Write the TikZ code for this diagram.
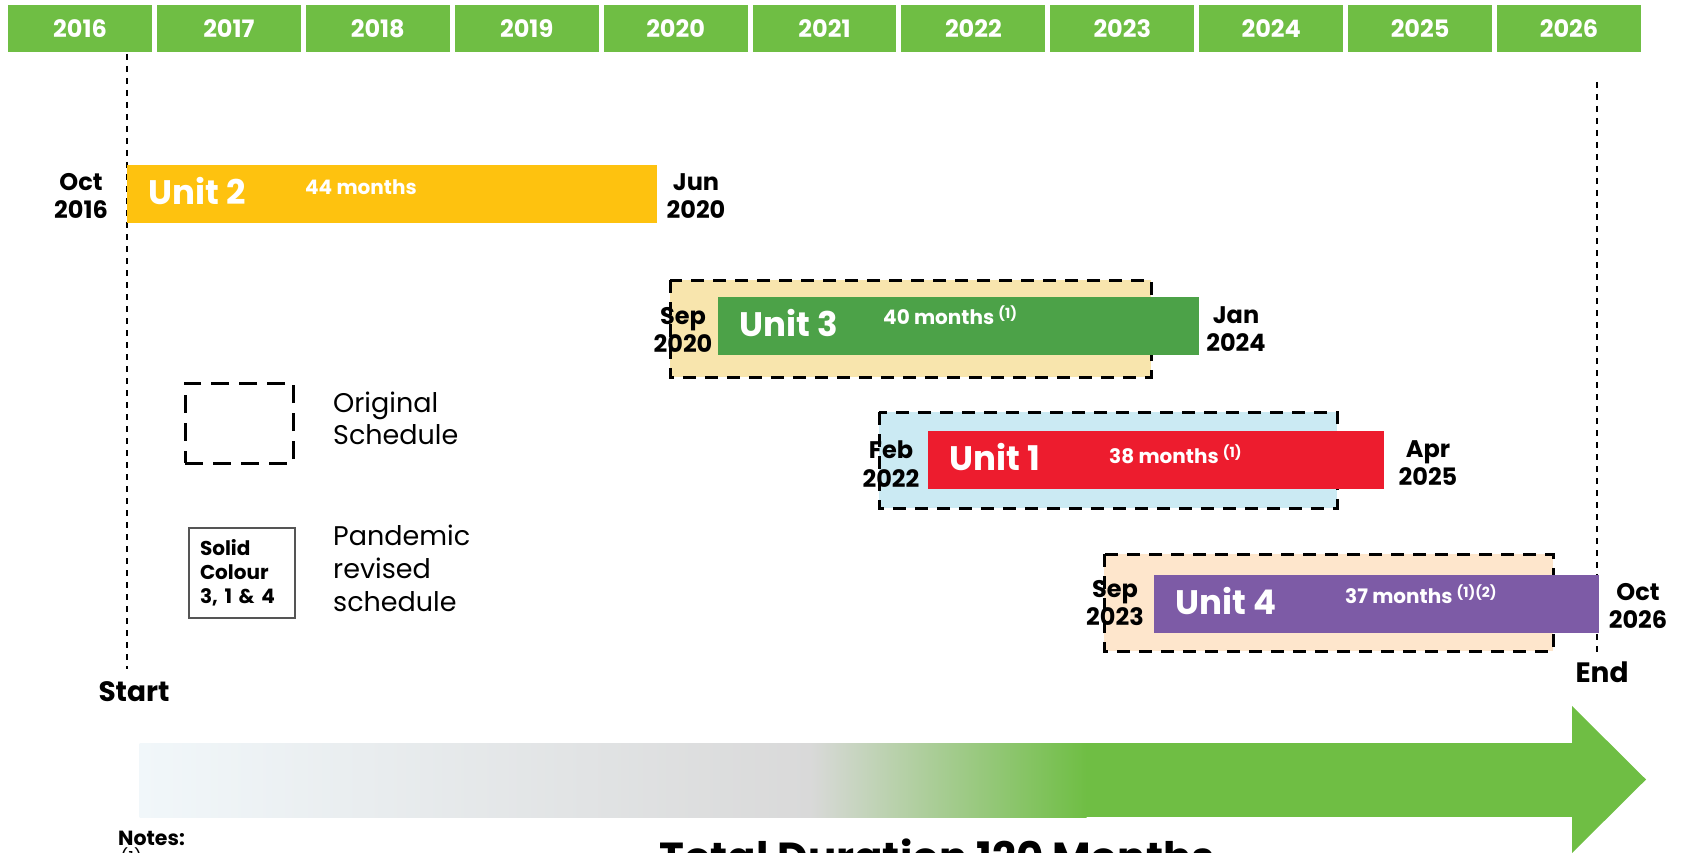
\documentclass[tikz,border=0pt]{standalone}
\usepackage{fontspec}
\setmainfont{Poppins}
\usepackage{xcolor}
\usetikzlibrary{positioning,calc,shapes,arrows.meta}

\definecolor{hdrgreen}{HTML}{6FBE44}
\definecolor{unitgold}{HTML}{FEC20F}
\definecolor{unitgreen}{HTML}{4CA248}
\definecolor{unitred}{HTML}{ED1C2E}
\definecolor{unitpurple}{HTML}{7D5BA6}
\definecolor{origtan}{HTML}{F8E5AD}
\definecolor{origblue}{HTML}{CBEAF3}
\definecolor{origpeach}{HTML}{FEE6CC}
\definecolor{fadewhite}{HTML}{F1F7FA}
\definecolor{fadegray}{HTML}{D9D9D9}
\definecolor{keygray}{HTML}{555555}

\newcommand{\unitnote}[1]{\raisebox{6pt}{\fontsize{14}{14}\selectfont(#1)}}

\tikzset{
    yearbox/.style={fill=hdrgreen, text=white, inner sep=0pt,
        minimum width=143.9pt, minimum height=47pt,
        font=\bfseries\fontsize{24}{24}\selectfont},
    bar/.style={anchor=north west, inner sep=0pt, minimum height=58pt},
    orig/.style={line width=3pt, dash pattern=on 13pt off 9pt},
    guide/.style={line width=1.5pt, dash pattern=on 6pt off 6pt},
    unitname/.style={text=white, inner sep=0pt, font=\bfseries\fontsize{34}{34}\selectfont},
    months/.style={text=white, inner sep=0pt, anchor=base west,
        font=\bfseries\fontsize{20}{20}\selectfont},
    datelbl/.style={align=center, inner sep=0pt,
        font=\bfseries\fontsize{24}{28.5}\selectfont},
    milestone/.style={inner sep=0pt, font=\bfseries\fontsize{28}{28}\selectfont},
    keytext/.style={align=left, anchor=west, inner sep=0pt,
        font=\fontsize{27}{32}\selectfont}
}

\begin{document}
\begin{tikzpicture}[x=1pt, y=-1pt, >=latex]
    \useasboundingbox (0,0) rectangle (1683,853);
    \clip (0,0) rectangle (1683,853);

    % year header
    \foreach \yr [count=\i from 0] in {2016,...,2026} {
        \node[yearbox] (y\yr) at ({80+148.9*\i}, 29) {\yr};
    }

    % start / end markers
    \coordinate (starttop) at (127,54);
    \coordinate (endtop) at (1597,82);
    \node[milestone] (start) at (134,692) {Start};
    \node[milestone] (end) at (1602,672) {End};
    \draw[guide] (starttop) -- ([yshift=13pt]start.north -| starttop);
    \draw[guide] (endtop) -- ([yshift=8pt]end.north -| endtop);

    % original schedules
    \draw[orig, fill=origtan] (670,280) rectangle (1151,377);
    \draw[orig, fill=origblue] (879,412) rectangle (1337,508);
    \draw[orig, fill=origpeach] (1104,554) rectangle (1553,651);

    % revised schedules
    \node[bar, fill=unitgold, minimum width=530pt] (u2) at (127,165) {};
    \node[bar, fill=unitgreen, minimum width=481pt] (u3) at (718,297) {};
    \node[bar, fill=unitred, minimum width=456pt] (u1) at (928,431) {};
    \node[bar, fill=unitpurple, minimum width=445pt] (u4) at (1154,575) {};

    \node[unitname, anchor=west, right=21pt of u2.west, yshift=3pt] (u2name) {Unit 2};
    \node[unitname, anchor=west, right=21pt of u3.west, yshift=3pt] (u3name) {Unit 3};
    \node[unitname, anchor=west, right=21pt of u1.west, yshift=3pt] (u1name) {Unit 1};
    \node[unitname, anchor=west, right=21pt of u4.west, yshift=3pt] (u4name) {Unit 4};

    \node[months] (u2len) at (305,194) {44 months};
    \node[months] (u3len) at (883,324) {40 months \unitnote{1}};
    \node[months] (u1len) at (1109,463) {38 months \unitnote{1}};
    \node[months] (u4len) at (1345,603) {37 months \unitnote{1}\unitnote{2}};

    % dates
    \node[datelbl] (u2from) at (81,196) {Oct\\2016};
    \node[datelbl] (u2to) at (696,196) {Jun\\2020};
    \node[datelbl] (u3from) at (683,330) {Sep\\2020};
    \node[datelbl] (u3to) at (1236,329) {Jan\\2024};
    \node[datelbl] (u1from) at (891,464) {Feb\\2022};
    \node[datelbl] (u1to) at (1428,463) {Apr\\2025};
    \node[datelbl] (u4from) at (1115,603) {Sep\\2023};
    \node[datelbl] (u4to) at (1638,606) {Oct\\2026};

    % legend
    \node[orig, draw, dash pattern=on 18pt off 10pt, minimum width=108pt,
        minimum height=80pt] (origkey) at (239,423) {};
    \node[draw=keygray, line width=1.2pt, minimum width=106pt, minimum height=90pt,
        text width=84pt, inner xsep=11pt, align=left,
        font=\bfseries\fontsize{20}{24}\selectfont] (solidkey) at (242,573)
        {Solid\\Colour\\3, 1 \& 4};
    \node[keytext] (origtxt) at (333,418.5) {Original\\Schedule};
    \node[keytext, font=\fontsize{27}{33}\selectfont] (solidtxt) at (333,568)
        {Pandemic\\revised\\schedule};

    % total duration arrow
    \shade[left color=fadewhite, right color=fadegray] (139.5,743) rectangle (810.5,817);
    \shade[left color=fadegray, right color=hdrgreen] (810,743) rectangle (1086.5,817);
    \fill[hdrgreen] (1086,743) rectangle (1573,817);
    \fill[hdrgreen] (1572,706) -- (1646,779.5) -- (1572,853) -- cycle;

    \node[anchor=base, font=\bfseries\fontsize{42}{42}\selectfont] (total) at (937,872)
        {Total Duration 120 Months};

    % notes
    \node[anchor=west, inner sep=0pt, font=\bfseries\fontsize{20.5}{20.5}\selectfont] (notes) at (118,838) {Notes:};
    \node[anchor=base west, inner sep=0pt, font=\fontsize{18}{18}\selectfont] (note1) at (120,864) {(1)};
\end{tikzpicture}
\end{document}
